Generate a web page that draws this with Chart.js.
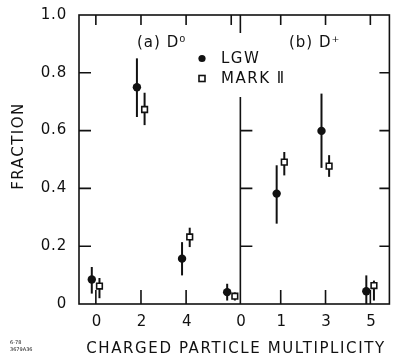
<!DOCTYPE html>
<html lang="en">
<head>
<meta charset="UTF-8">
<title>D meson charged multiplicity</title>
<style>
  html, body { margin: 0; padding: 0; background: #fff; }
  #wrap { width: 395px; height: 362px; }
</style>
</head>
<body>
<div id="wrap"><canvas id="myChart" width="395" height="362"></canvas></div>
<script src="https://cdn.jsdelivr.net/npm/chart.js"></script>
<script>
// (a) D0 panel
const d0Mult = [0, 2, 4, 6];
const lgwD0 = [0.085, 0.750, 0.157, 0.041];
const lgwD0Hi = [0.128, 0.850, 0.214, 0.070];
const lgwD0Lo = [0.036, 0.647, 0.099, 0.012];
const markD0 = [0.062, 0.673, 0.232, 0.027];
const markD0Hi = [0.090, 0.731, 0.264, 0.040];
const markD0Lo = [0.020, 0.619, 0.197, 0.012];

// (b) D+ panel
const dpMult = [1, 3, 5];
const lgwDp = [0.382, 0.599, 0.044];
const lgwDpHi = [0.480, 0.728, 0.099];
const lgwDpLo = [0.278, 0.471, 0.000];
const markDp = [0.491, 0.477, 0.064];
const markDpHi = [0.526, 0.515, 0.081];
const markDpLo = [0.445, 0.440, 0.012];

const yTicks = [0, 0.2, 0.4, 0.6, 0.8, 1.0];
const yTickLabels = ["0", "0.2", "0.4", "0.6", "0.8", "1.0"];
const d0TopTicks = [0, 2, 4, 6];
const d0BottomTicks = [0, 2, 4];
const dpTicks = [1, 3, 5];
const dividerAt = -0.8;   // on the D+ axis

const OFF_LGW = -0.18;
const OFF_MARK = 0.16;
const FONT = "DejaVu Sans";

function pts(mult, vals, off) {
    return mult.map((m, i) => ({ x: m + off, y: vals[i] }));
}

const errorBars = {
    id: "errorBars",
    beforeDatasetsDraw(chart) {
        const ctx = chart.ctx;
        const y = chart.scales.y;
        ctx.save();
        ctx.strokeStyle = "#111";
        ctx.lineWidth = 2;
        chart.data.datasets.forEach((ds, di) => {
            const meta = chart.getDatasetMeta(di);
            meta.data.forEach((el, i) => {
                ctx.beginPath();
                ctx.moveTo(el.x, y.getPixelForValue(ds.errHi[i]));
                ctx.lineTo(el.x, y.getPixelForValue(ds.errLo[i]));
                ctx.stroke();
            });
        });
        ctx.restore();
    }
};

const frame = {
    id: "frame",
    afterDatasetsDraw(chart) {
        const ctx = chart.ctx;
        const a = chart.chartArea;
        const xa = chart.scales.x, xb = chart.scales.xb, y = chart.scales.y;
        const div = xb.getPixelForValue(dividerAt);
        ctx.save();
        ctx.strokeStyle = "#111";
        ctx.lineWidth = 1.6;
        ctx.strokeRect(a.left, a.top, a.right - a.left, a.bottom - a.top);
        // divider (gap behind legend)
        ctx.beginPath();
        ctx.moveTo(div, a.top); ctx.lineTo(div, 33);
        ctx.moveTo(div, 97); ctx.lineTo(div, a.bottom);
        ctx.stroke();

        // y ticks
        yTicks.slice(1, 5).forEach(v => {
            const py = y.getPixelForValue(v);
            ctx.beginPath();
            ctx.moveTo(a.left, py); ctx.lineTo(a.left + 12, py);
            ctx.moveTo(a.right, py); ctx.lineTo(a.right - 10, py);
            if (py > 97) { ctx.moveTo(div, py); ctx.lineTo(div + 12, py); }
            ctx.stroke();
        });
        // top ticks
        ctx.beginPath();
        d0TopTicks.forEach(m => {
            const px = xa.getPixelForValue(m);
            ctx.moveTo(px, a.top); ctx.lineTo(px, a.top + 10);
        });
        dpTicks.forEach(m => {
            const px = xb.getPixelForValue(m);
            ctx.moveTo(px, a.top); ctx.lineTo(px, a.top + 10);
        });
        // bottom ticks
        d0BottomTicks.forEach(m => {
            const px = xa.getPixelForValue(m);
            ctx.moveTo(px, a.bottom); ctx.lineTo(px, a.bottom - 14);
        });
        dpTicks.forEach(m => {
            const px = xb.getPixelForValue(m);
            ctx.moveTo(px, a.bottom); ctx.lineTo(px, a.bottom - 14);
        });
        ctx.stroke();

        // labels
        ctx.fillStyle = "#111";
        ctx.font = "15px '" + FONT + "'";
        ctx.letterSpacing = "0.8px";
        ctx.textAlign = "right";
        ctx.textBaseline = "middle";
        yTicks.forEach((v, i) => {
            ctx.fillText(yTickLabels[i], a.left - 12, y.getPixelForValue(v));
        });
        ctx.textAlign = "center";
        const xl = a.bottom + 18;
        d0BottomTicks.forEach(m => ctx.fillText(String(m), xa.getPixelForValue(m) + 1, xl));
        ctx.fillText("0", div + 1, xl);
        dpTicks.forEach(m => ctx.fillText(String(m), xb.getPixelForValue(m) + 1, xl));

        ctx.letterSpacing = "1.6px";
        ctx.fillText("CHARGED PARTICLE MULTIPLICITY", 236, 349);

        ctx.save();
        ctx.translate(19, 146);
        ctx.rotate(-Math.PI / 2);
        ctx.letterSpacing = "1.5px";
        ctx.fillText("FRACTION", 0, 0);
        ctx.restore();

        // legend
        ctx.fillStyle = "#fff";
        ctx.fillRect(195, 50, 108, 38);
        ctx.fillStyle = "#111";
        ctx.textAlign = "left";
        ctx.letterSpacing = "1.5px";
        ctx.fillText(chart.data.datasets[0].label, 221, 59);
        ctx.fillText(chart.data.datasets[1].label, 221, 79);
        ctx.beginPath();
        ctx.arc(202, 58.5, 3.6, 0, Math.PI * 2);
        ctx.fill();
        ctx.lineWidth = 1.6;
        ctx.strokeRect(199, 75.5, 6, 6);

        ctx.letterSpacing = "1px";
        ctx.fillText("(a) D\u2070", 137, 43);
        ctx.fillText("(b) D\u207A", 289, 43);

        // plate stamp
        ctx.letterSpacing = "0px";
        ctx.font = "5px '" + FONT + "'";
        ctx.fillText("6-78", 10, 343);
        ctx.fillText("3679A36", 10, 350);
        ctx.restore();
    }
};

const lgwStyle = { pointStyle: "circle", pointRadius: 4.2, backgroundColor: "#111", borderColor: "#111", borderWidth: 0 };
const markStyle = { pointStyle: "rect", pointRadius: 4, backgroundColor: "#fff", borderColor: "#111", borderWidth: 1.6 };

new Chart(document.getElementById("myChart"), {
    type: "scatter",
    data: {
        datasets: [
            Object.assign({ label: "LGW", xAxisID: "x", data: pts(d0Mult, lgwD0, OFF_LGW), errHi: lgwD0Hi, errLo: lgwD0Lo }, lgwStyle),
            Object.assign({ label: "MARK \u2161", xAxisID: "x", data: pts(d0Mult, markD0, OFF_MARK), errHi: markD0Hi, errLo: markD0Lo }, markStyle),
            Object.assign({ label: "LGW D+", xAxisID: "xb", data: pts(dpMult, lgwDp, OFF_LGW), errHi: lgwDpHi, errLo: lgwDpLo }, lgwStyle),
            Object.assign({ label: "MARK II D+", xAxisID: "xb", data: pts(dpMult, markDp, OFF_MARK), errHi: markDpHi, errLo: markDpLo }, markStyle)
        ]
    },
    options: {
        responsive: false,
        animation: false,
        layout: { padding: { left: 79, right: 3, top: 15, bottom: 58 } },
        plugins: { legend: { display: false }, tooltip: { enabled: false } },
        scales: {
            x: { type: "linear", display: false, min: -0.747, max: 13.01 },
            xb: { type: "linear", display: false, min: -8.0, max: 5.85 },
            y: { type: "linear", display: false, min: 0, max: 1 }
        }
    },
    plugins: [errorBars, frame]
});
</script>
</body>
</html>
